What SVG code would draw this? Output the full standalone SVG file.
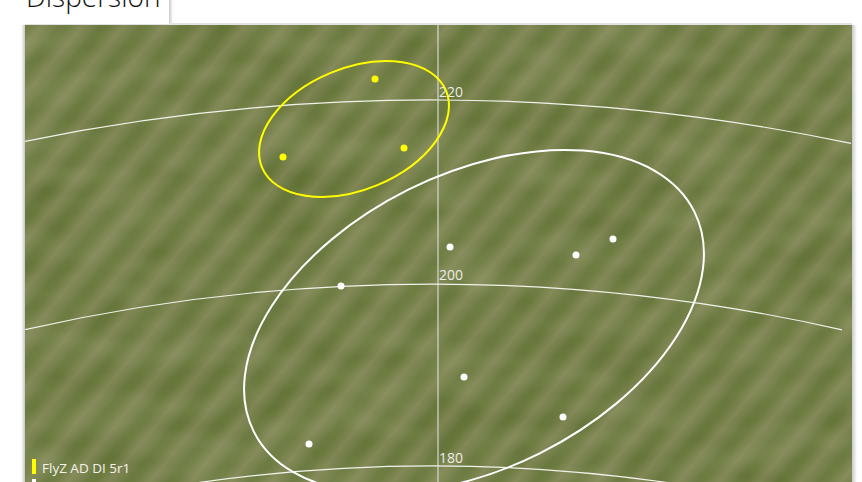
<svg xmlns="http://www.w3.org/2000/svg" width="862" height="482" viewBox="0 0 862 482">
  <defs>
    <linearGradient id="stripes" gradientUnits="userSpaceOnUse" x1="0" y1="0" x2="24" y2="20" spreadMethod="repeat">
      <stop offset="0" stop-color="#627237"/>
      <stop offset="0.2" stop-color="#647337"/>
      <stop offset="0.55" stop-color="#7c8250"/>
      <stop offset="0.8" stop-color="#6f7a44"/>
      <stop offset="1" stop-color="#627237"/>
    </linearGradient>
    <linearGradient id="shadeR" x1="0" y1="0" x2="1" y2="0">
      <stop offset="0" stop-color="#c8c8c8"/>
      <stop offset="1" stop-color="#ffffff"/>
    </linearGradient>
    <linearGradient id="shadeL" x1="1" y1="0" x2="0" y2="0">
      <stop offset="0" stop-color="#c8c8c8"/>
      <stop offset="1" stop-color="#ffffff"/>
    </linearGradient>
    <clipPath id="plotClip">
      <rect x="25" y="25" width="827" height="457"/>
    </clipPath>
    <filter id="grain" x="0" y="0" width="1" height="1">
      <feTurbulence type="fractalNoise" baseFrequency="0.012 0.03" numOctaves="2" seed="3" result="n"/>
      <feColorMatrix in="n" type="matrix" values="0 0 0 0 0.5  0 0 0 0 0.52  0 0 0 0 0.3  0 0 0 0.35 -0.05"/>
    </filter>
  </defs>
  <style>
    .ring { fill: none; stroke: #f2f2ea; stroke-width: 1.2; }
    .axis { fill: none; stroke: #d8d8cc; stroke-width: 1.2; }
    .lbl { font-family: "Open Sans", "Noto Sans", sans-serif; font-size: 14px; fill: #ecece4; }
    .ydot { fill: #ffff00; }
    .wdot { fill: #ffffff; }
  </style>

  <rect width="862" height="482" fill="#ffffff"/>

  <!-- plot shadow -->
  <rect x="21" y="25" width="4" height="457" fill="url(#shadeL)"/>
  <rect x="852" y="25" width="5" height="457" fill="url(#shadeR)"/>
  <rect x="25" y="23" width="827" height="2" fill="#e2e2e2"/>

  <!-- tab -->
  <g id="tab">
    <rect x="169" y="0" width="4" height="23" fill="url(#shadeR)"/>
    <rect x="25" y="0" width="144" height="24" fill="#ffffff"/>
    <text x="26" y="7" font-family="Open Sans, Noto Sans, sans-serif" font-size="28" font-weight="300" fill="#111111">Dispersion</text>
  </g>

  <!-- plot background -->
  <g id="plot" clip-path="url(#plotClip)">
    <rect x="25" y="25" width="827" height="457" fill="url(#stripes)"/>
    <rect x="25" y="25" width="827" height="457" filter="url(#grain)"/>

    <g id="grid">
      <line class="axis" x1="438" y1="25" x2="438" y2="482"/>
      <path class="ring" d="M25,141.3 A2034,2034 0 0 1 851,143.4"/>
      <path class="ring" d="M25,329.6 A1850,1850 0 0 1 842,329.8"/>
      <path class="ring" d="M180,485.3 A1668,1668 0 0 1 686,485.3"/>
      <text class="lbl" x="439" y="97">220</text>
      <text class="lbl" x="439" y="280">200</text>
      <text class="lbl" x="439" y="463">180</text>
    </g>

    <g id="series-yellow">
      <ellipse cx="354" cy="129" rx="99.7" ry="60.8" transform="rotate(-22.6 354 129)" fill="none" stroke="#ffff00" stroke-width="2"/>
      <circle class="ydot" cx="375" cy="79" r="3.5"/>
      <circle class="ydot" cx="283" cy="157" r="3.5"/>
      <circle class="ydot" cx="404" cy="148" r="3.5"/>
    </g>

    <g id="series-white">
      <ellipse cx="474" cy="321.5" rx="246.2" ry="147.3" transform="rotate(-26.5 474 321.5)" fill="none" stroke="#ffffff" stroke-width="2"/>
      <circle class="wdot" cx="450" cy="247" r="3.5"/>
      <circle class="wdot" cx="576" cy="255" r="3.5"/>
      <circle class="wdot" cx="613" cy="239" r="3.5"/>
      <circle class="wdot" cx="341" cy="286" r="3.5"/>
      <circle class="wdot" cx="464" cy="377" r="3.5"/>
      <circle class="wdot" cx="563" cy="417" r="3.5"/>
      <circle class="wdot" cx="309" cy="444" r="3.5"/>
    </g>

    <g id="legend">
      <rect x="32" y="459" width="4" height="15" fill="#ffff00"/>
      <text x="42" y="473" font-family="Open Sans, Noto Sans, sans-serif" font-size="13.5" fill="#f4f4ec">FlyZ AD DI 5r1</text>
      <rect x="32" y="479" width="4" height="6" fill="#ffffff"/>
    </g>
  </g>
</svg>
